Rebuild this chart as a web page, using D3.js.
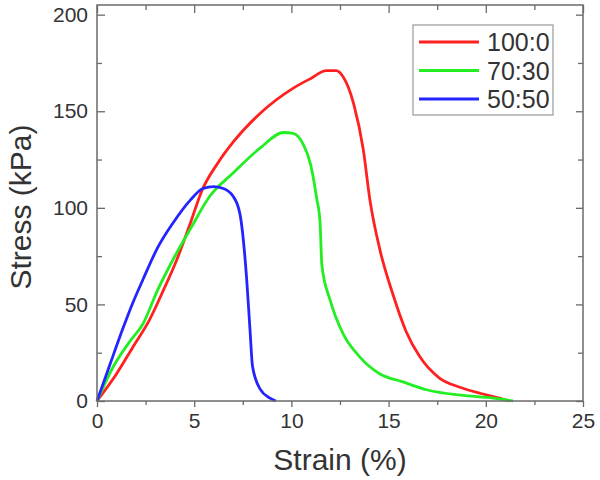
<!DOCTYPE html>
<html><head><meta charset="utf-8">
<script src="https://cdn.jsdelivr.net/npm/d3@7"></script>
<style>body{margin:0;background:#fff;} svg{display:block;font-family:Arial,"Liberation Sans",sans-serif;}</style>
</head><body>
<script>
const seriesNames = ["100:0", "70:30", "50:50"];
const seriesColors = ["#ff2020", "#22ee22", "#2424ff"];
const strain100 = [0,1.0,1.85,2.7,3.4,4.1,4.8,5.4,6.2,7.0,8.4,10.1,11.0,11.8,12.3,12.65,13.2,13.7,14.04,14.56,15.23,15.9,16.6,17.6,18.7,19.7,20.7,21.2];
const stress100 = [0,14,28,42,57,73,92,109,123,134,149,162,167,171,171,168,154,130,104,78,55,36,23,12,7,4,1.5,0];
const strain70 = [0,0.85,1.7,2.37,3.1,3.9,4.8,5.8,7.0,8.4,9.6,10.1,10.6,11.0,11.3,11.47,11.57,12.0,12.65,13.5,14.56,15.7,17.0,18.7,20.4,21.4];
const stress70 = [0,18,31,40,57,73,89,106,118,131,139,138.5,133,122,105,93,70,52,35,23,14,10,5.7,3,1.5,0];
const strain50 = [0,0.67,1.35,1.85,2.37,3.1,3.9,4.8,5.45,6.0,6.5,7.0,7.35,7.7,7.87,8.0,8.4,8.9,9.2];
const stress50 = [0,19,38,51,63,79,92,104,110,111,110,106,97,63,37,18,6,1.5,0];
const xTicks = [0,5,10,15,20,25];
const yTicks = [0,50,100,150,200];
const xLabel = "Strain (%)";
const yLabel = "Stress (kPa)";

const W = 600, H = 480;
const m = {left:97, top:5, right:17, bottom:79};
const iw = W - m.left - m.right, ih = H - m.top - m.bottom;
const svg = d3.select("body").append("svg").attr("width", W).attr("height", H);
const g = svg.append("g").attr("transform", `translate(${m.left},${m.top})`);
const x = d3.scaleLinear().domain([0,25]).range([0, iw]);
const y = d3.scaleLinear().domain([0,205]).range([ih, 0]);
const axisColor = "#6a6a6a";
const textColor = "#333";

const data = [
  strain100.map((s,i)=>[s, stress100[i]]),
  strain70.map((s,i)=>[s, stress70[i]]),
  strain50.map((s,i)=>[s, stress50[i]])
];
const line = d3.line().x(d=>x(d[0])).y(d=>y(d[1])).curve(d3.curveMonotoneX);
data.forEach((d,i)=>{
  g.append("path").datum(d).attr("fill","none").attr("stroke",seriesColors[i])
   .attr("stroke-width",2.8).attr("stroke-linejoin","round").attr("d", line);
});

const xMinor = d3.range(2.5, 25, 5);
const yMinor = d3.range(25, 205, 50);
function styleAxis(sel, showText){
  sel.select(".domain").remove();
  sel.selectAll("line").attr("stroke", axisColor).attr("stroke-width",1.3);
  sel.selectAll("text").attr("fill", textColor).style("font-size","21px");
  if(!showText) sel.selectAll("text").remove();
}
g.append("g").attr("transform",`translate(0,${ih})`)
  .call(d3.axisBottom(x).tickValues(xTicks).tickSize(6).tickPadding(6).tickFormat(d3.format("d")))
  .call(s=>styleAxis(s,true));
g.append("g").attr("transform",`translate(0,${ih})`)
  .call(d3.axisBottom(x).tickValues(xMinor).tickSize(4).tickFormat(""))
  .call(s=>styleAxis(s,false));
g.append("g")
  .call(d3.axisLeft(y).tickValues(yTicks).tickSizeInner(-8).tickSizeOuter(0).tickPadding(9).tickFormat(d3.format("d")))
  .call(s=>styleAxis(s,true));
g.append("g")
  .call(d3.axisLeft(y).tickValues(yMinor).tickSize(-5).tickFormat(""))
  .call(s=>styleAxis(s,false));
g.append("g").call(d3.axisTop(x).tickValues(xTicks).tickSize(-8).tickFormat("")).call(s=>styleAxis(s,false));
g.append("g").call(d3.axisTop(x).tickValues(xMinor).tickSize(-5).tickFormat("")).call(s=>styleAxis(s,false));
g.append("g").attr("transform",`translate(${iw},0)`).call(d3.axisRight(y).tickValues(yTicks).tickSize(-7).tickFormat("")).call(s=>styleAxis(s,false));
g.append("g").attr("transform",`translate(${iw},0)`).call(d3.axisRight(y).tickValues(yMinor).tickSize(-5).tickFormat("")).call(s=>styleAxis(s,false));

g.append("rect").attr("x",0).attr("y",0).attr("width",iw).attr("height",ih)
  .attr("fill","none").attr("stroke",axisColor).attr("stroke-width",1.5);

svg.append("text").attr("x", m.left + iw/2).attr("y", 470).attr("text-anchor","middle")
  .attr("fill", textColor).style("font-size","30px").text(xLabel);
svg.append("text").attr("transform","translate(31,207) rotate(-90)").attr("text-anchor","middle")
  .attr("fill", textColor).style("font-size","30px").text(yLabel);

const lg = svg.append("g").attr("transform","translate(413,25)");
lg.append("rect").attr("width",140).attr("height",90).attr("fill","#fff")
  .attr("stroke","#999").attr("stroke-width",1.2);
seriesNames.forEach((n,i)=>{
  const yy = 17 + i*28.5;
  lg.append("line").attr("x1",6).attr("x2",66).attr("y1",yy).attr("y2",yy)
    .attr("stroke",seriesColors[i]).attr("stroke-width",2.8);
  lg.append("text").attr("x",74).attr("y",yy+9).attr("fill",textColor)
    .style("font-size","25px").text(n);
});
</script>
</body></html>
